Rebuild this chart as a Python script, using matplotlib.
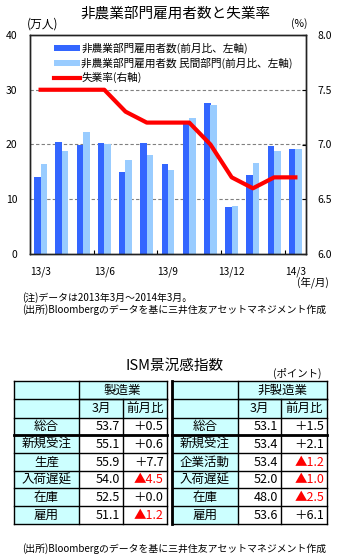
import numpy as np
import matplotlib
matplotlib.use("Agg")
import matplotlib.pyplot as plt
from matplotlib.patches import Rectangle

plt.rcParams["font.family"] = ["Noto Sans CJK JP", "DejaVu Sans"]

# ---- data: 非農業部門雇用者数と失業率 ----
months = ["13/3", "13/4", "13/5", "13/6", "13/7", "13/8", "13/9",
          "13/10", "13/11", "13/12", "14/1", "14/2", "14/3"]
nfp_total = [14.1, 20.4, 19.9, 20.2, 15.0, 20.2, 16.5, 24.0, 27.5, 8.5, 14.4, 19.7, 19.2]
nfp_private = [16.5, 18.8, 22.2, 20.1, 17.1, 18.1, 15.3, 24.8, 27.3, 8.7, 16.7, 18.9, 19.2]
unemp = [7.5, 7.5, 7.5, 7.5, 7.3, 7.2, 7.2, 7.2, 7.0, 6.7, 6.6, 6.7, 6.7]
xlabels = ["13/3", "13/6", "13/9", "13/12", "14/3"]

# ---- data: ISM景況感指数 ----
mfg_items = ["総合", "新規受注", "生産", "入荷遅延", "在庫", "雇用"]
mfg_val = [53.7, 55.1, 55.9, 54.0, 52.5, 51.1]
mfg_chg = [0.5, 0.6, 7.7, -4.5, 0.0, -1.2]
non_items = ["総合", "新規受注", "企業活動", "入荷遅延", "在庫", "雇用"]
non_val = [53.1, 53.4, 53.4, 52.0, 48.0, 53.6]
non_chg = [1.5, 2.1, -1.2, -1.0, -2.5, 6.1]

DARK = "#3366ff"
LIGHT = "#99ccff"
RED = "#ff0000"
CYAN = "#ccffff"

fig = plt.figure(figsize=(3.5, 5.6), dpi=100)

# chart
ax = fig.add_axes([30 / 350, 1 - 254 / 560, 276 / 350, 219 / 560])
x = np.arange(len(months))
ax.bar(x - 0.15, nfp_total, width=0.31, color=DARK, label="非農業部門雇用者数(前月比、左軸)", zorder=2)
ax.bar(x + 0.15, nfp_private, width=0.31, color=LIGHT, label="非農業部門雇用者数 民間部門(前月比、左軸)", zorder=2)
ax.set_xlim(-0.5, len(months) - 0.5)
ax.set_ylim(0, 40)
ax.set_yticks([0, 10, 20, 30, 40])
for v in [10, 20, 30]:
    ax.axhline(v, color="#808080", lw=0.8, ls=(0, (3, 2)), zorder=1)
ax.set_xticks([2.5, 5.5, 8.5, 11.5])
ax.set_xticklabels([])
ax.tick_params(axis="x", direction="in", length=3, width=0.8)
ax.tick_params(axis="y", direction="in", length=0, labelsize=7.5, pad=9)
for i, lab in zip([0, 3, 6, 9, 12], xlabels):
    ax.text(i, -2.3, lab, ha="center", va="top", fontsize=7.3)

ax2 = ax.twinx()
ax2.plot(x, unemp, color=RED, lw=3, label="失業率(右軸)", zorder=3)
ax2.set_ylim(6.0, 8.0)
ax2.set_yticks([6.0, 6.5, 7.0, 7.5, 8.0])
ax2.set_yticklabels(["%.1f" % v for v in [6.0, 6.5, 7.0, 7.5, 8.0]])
ax2.tick_params(axis="y", direction="in", length=3, labelsize=7.5, pad=8)
for a in (ax, ax2):
    for s in a.spines.values():
        s.set_linewidth(1.0)
        s.set_color("#222222")

h1, l1 = ax.get_legend_handles_labels()
h2, l2 = ax2.get_legend_handles_labels()
ax2.legend(h1 + h2, l1 + l2, loc="upper left", bbox_to_anchor=(0.06, 1.0),
           frameon=False, fontsize=7.7, handlelength=2.4, handleheight=0.5,
           labelspacing=0.35, handletextpad=0.15, borderaxespad=0.3)

fig.text(175 / 350, 1 - 14 / 560, "非農業部門雇用者数と失業率", ha="center", va="center", fontsize=10.5)
fig.text(27 / 350, 1 - 24 / 560, "(万人)", ha="left", va="center", fontsize=8.5)
fig.text(307 / 350, 1 - 24 / 560, "(%)", ha="right", va="center", fontsize=7.5)
fig.text(329 / 350, 1 - 282 / 560, "(年/月)", ha="right", va="center", fontsize=7.5)
fig.text(22 / 350, 1 - 298 / 560, "(注)データは2013年3月～2014年3月。", ha="left", va="center", fontsize=7.1)
fig.text(22 / 350, 1 - 310 / 560, "(出所)Bloombergのデータを基に三井住友アセットマネジメント作成",
         ha="left", va="center", fontsize=7.1)

# table
tx = fig.add_axes([0, 0, 1, 1])
tx.set_xlim(0, 350)
tx.set_ylim(560, 0)
tx.axis("off")

fig.text(175 / 350, 1 - 366 / 560, "ISM景況感指数", ha="center", va="center", fontsize=10.5)
fig.text(322 / 350, 1 - 373 / 560, "(ポイント)", ha="right", va="center", fontsize=7.5)

rows_y = [381, 399.3, 417.7, 435, 452.8, 470.5, 488.3, 506.3, 524.3]


def draw_table(cols, title, items, vals, chgs):
    c0, c1, c2, c3 = cols
    top, mid, hb = rows_y[0], rows_y[1], rows_y[2]
    bottom = rows_y[-1]
    # fills
    tx.add_patch(Rectangle((c0, top), c3 - c0, hb - top, facecolor=CYAN, edgecolor="none"))
    tx.add_patch(Rectangle((c0, hb), c1 - c0, bottom - hb, facecolor=CYAN, edgecolor="none"))
    # lines
    lw = 1.0
    for y in rows_y:
        tx.plot([c0, c3], [y, y], color="black", lw=lw)
    tx.plot([c0, c3], [rows_y[3], rows_y[3]], color="black", lw=2.0)
    tx.plot([c1, c3], [mid, mid], color="black", lw=lw)
    tx.plot([c0, c0], [top, bottom], color="black", lw=lw)
    tx.plot([c1, c1], [top, bottom], color="black", lw=lw)
    tx.plot([c2, c2], [mid, bottom], color="black", lw=lw)
    tx.plot([c3, c3], [top, bottom], color="black", lw=lw)
    fs = 9
    tx.text((c1 + c3) / 2, (top + mid) / 2, title, ha="center", va="center", fontsize=fs)
    tx.text((c1 + c2) / 2, (mid + hb) / 2, "3月", ha="center", va="center", fontsize=fs)
    tx.text((c2 + c3) / 2, (mid + hb) / 2, "前月比", ha="center", va="center", fontsize=fs)
    for k, (it, v, ch) in enumerate(zip(items, vals, chgs)):
        ya = (rows_y[k + 2] + rows_y[k + 3]) / 2 + 0.5
        tx.text((c0 + c1) / 2, ya, it, ha="center", va="center", fontsize=fs)
        tx.text(c2 - 3, ya, "%.1f" % v, ha="right", va="center", fontsize=fs)
        if ch < 0:
            tx.text(c3 - 3, ya, "▲%.1f" % abs(ch), ha="right", va="center", fontsize=fs, color=RED)
        else:
            tx.text(c3 - 3, ya, "＋%.1f" % ch, ha="right", va="center", fontsize=fs)


draw_table((14.3, 78.7, 123.3, 166.5), "製造業", mfg_items, mfg_val, mfg_chg)
draw_table((172, 237.7, 281, 327.3), "非製造業", non_items, non_val, non_chg)
tx.plot([172, 172], [rows_y[0], rows_y[-1]], color="black", lw=2.0)

fig.text(22 / 350, 1 - 549 / 560, "(出所)Bloombergのデータを基に三井住友アセットマネジメント作成",
         ha="left", va="center", fontsize=7.1)

fig.savefig("out.png", dpi=100, facecolor="white")
